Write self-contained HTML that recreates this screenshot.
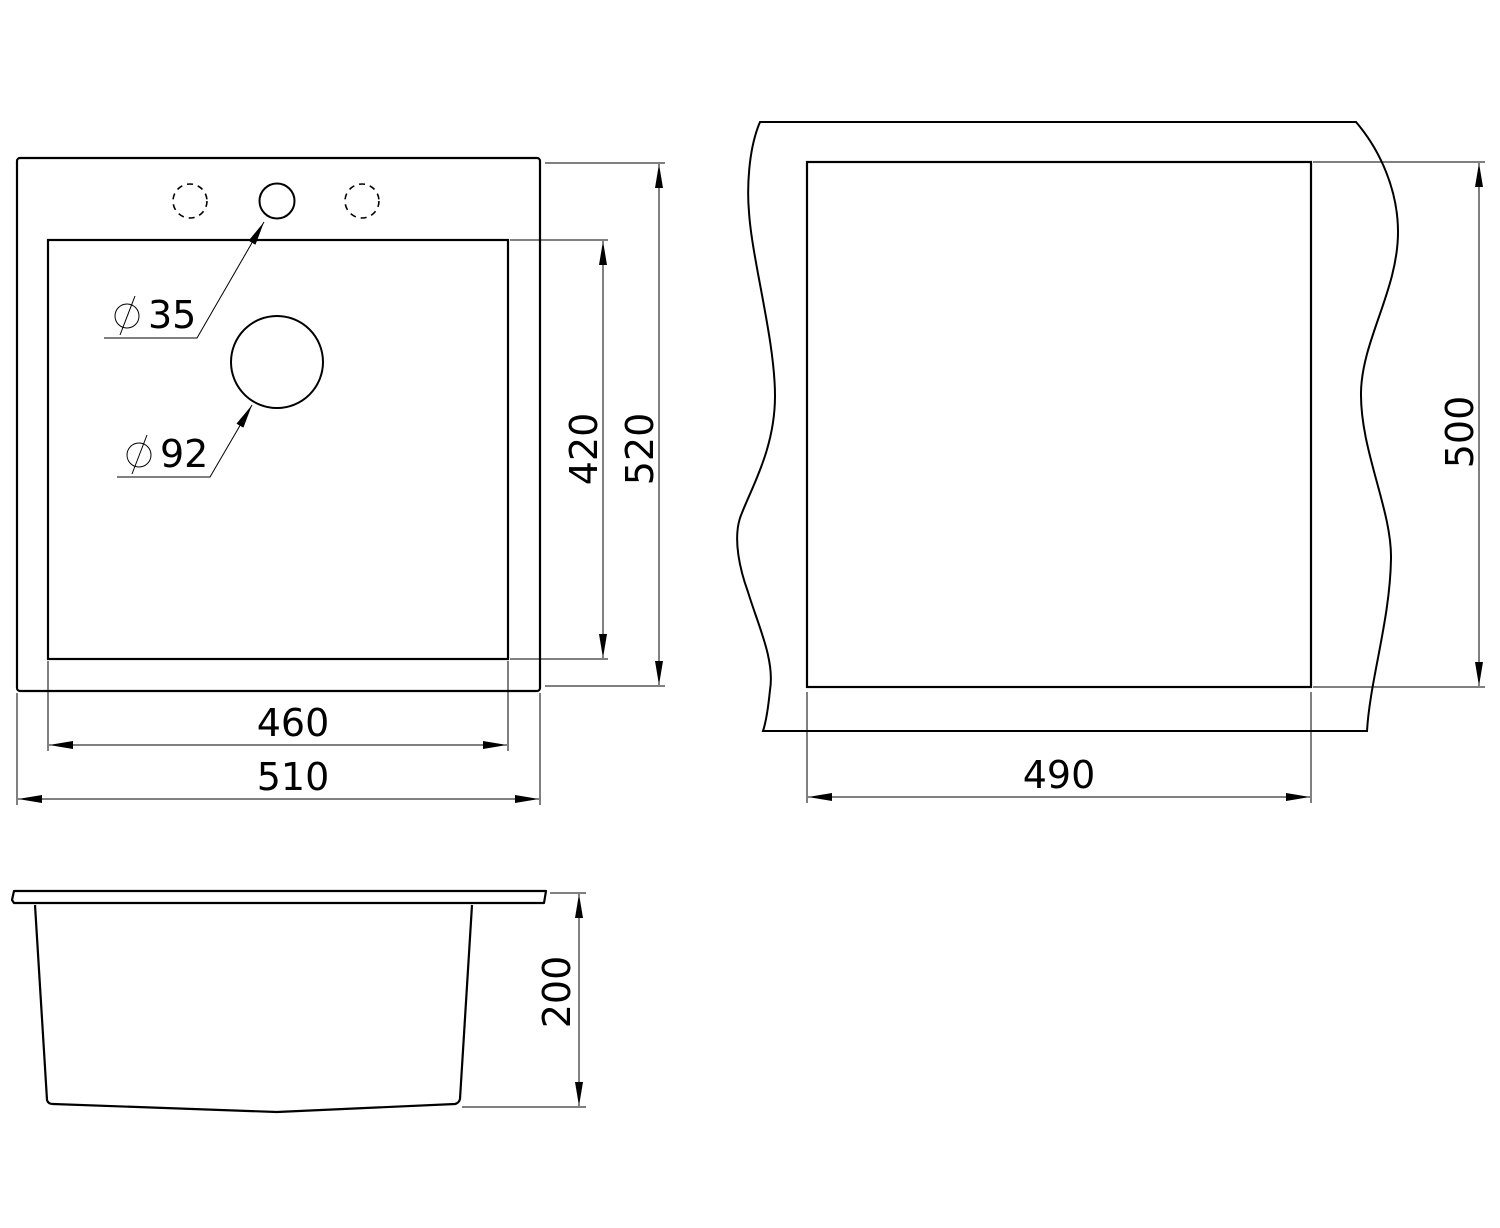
<!DOCTYPE html>
<html><head><style>html,body{margin:0;padding:0;background:#fff}svg{display:block}</style></head>
<body>
<svg width="1500" height="1228" viewBox="0 0 1500 1228" xmlns="http://www.w3.org/2000/svg">
<defs>
<marker id="a" markerWidth="24" markerHeight="8" refX="24" refY="4" orient="auto" markerUnits="userSpaceOnUse">
<path d="M0,0 L24,4 L0,8 Z" fill="#000"/></marker>
<marker id="b" markerWidth="24" markerHeight="8" refX="0" refY="4" orient="auto" markerUnits="userSpaceOnUse">
<path d="M24,0 L0,4 L24,8 Z" fill="#000"/></marker>
</defs>
<g fill="none" stroke="#000">
<!-- top-left view -->
<rect x="17" y="158" width="523" height="533" rx="3" stroke-width="2.2"/>
<rect x="48" y="240" width="460" height="419" stroke-width="2.2"/>
<circle cx="190" cy="201" r="17" stroke-width="1.6" stroke-dasharray="6,5"/>
<circle cx="277" cy="201" r="17.5" stroke-width="2"/>
<circle cx="362" cy="201" r="17" stroke-width="1.6" stroke-dasharray="6,5"/>
<circle cx="277" cy="362" r="46" stroke-width="2"/>
<path d="M104,338 H197 L264,222" stroke-width="1" marker-end="url(#a)"/>
<path d="M117,477 H210 L252,405" stroke-width="1" marker-end="url(#a)"/>
<!-- 420 -->
<path d="M510,240 H608 M510,659 H608" stroke-width="1"/>
<path d="M603,241 V658" stroke-width="1" marker-start="url(#b)" marker-end="url(#a)"/>
<!-- 520 -->
<path d="M545,163 H665 M545,686 H665" stroke-width="1"/>
<path d="M659,164 V685" stroke-width="1" marker-start="url(#b)" marker-end="url(#a)"/>
<!-- 460 -->
<path d="M48,661 V751 M508,661 V751" stroke-width="1"/>
<path d="M49,745 H507" stroke-width="1" marker-start="url(#b)" marker-end="url(#a)"/>
<!-- 510 -->
<path d="M17,693 V805 M540,693 V805" stroke-width="1"/>
<path d="M18,799 H539" stroke-width="1" marker-start="url(#b)" marker-end="url(#a)"/>
<!-- right view -->
<path d="M760,122 H1356 C1380,150 1398,190 1398,232 C1398,290 1362,340 1361,392 C1360,450 1392,510 1391,559 C1390,620 1370,680 1367,731 H763 C765,725 768,710 770,690 C775,660 758,625 748,592 C740,570 733,540 740,518 C750,490 775,450 775,396 C775,340 752,260 749,212 C747,190 748,150 760,122 Z" stroke-width="2"/>
<rect x="807" y="162" width="504" height="525" stroke-width="2.2"/>
<path d="M1313,162 H1485 M1313,687 H1485" stroke-width="1"/>
<path d="M1479,163 V686" stroke-width="1" marker-start="url(#b)" marker-end="url(#a)"/>
<path d="M807,692 V803 M1311,692 V803" stroke-width="1"/>
<path d="M808,797 H1310" stroke-width="1" marker-start="url(#b)" marker-end="url(#a)"/>
<!-- bottom view -->
<path d="M14,891 H546 L544,903 H14 L12,900 Z" stroke-width="2.2" stroke-linejoin="round"/>
<path d="M35,905 L47,1100 Q48,1104 53,1104 L277,1112 L455,1104 Q459,1103 460,1099 L472,905" stroke-width="2.2"/>
<path d="M550,893 H586 M462,1107 H586" stroke-width="1"/>
<path d="M579,894 V1106" stroke-width="1" marker-start="url(#b)" marker-end="url(#a)"/>
</g>
<g font-family="'DejaVu Sans','Liberation Sans',sans-serif" font-size="38" fill="#000">
<text x="148" y="328">35</text>
<text x="160" y="467">92</text>
<text x="293" y="736" text-anchor="middle">460</text>
<text x="293" y="790" text-anchor="middle">510</text>
<text x="1059" y="788" text-anchor="middle">490</text>
<text transform="translate(597,449) rotate(-90)" text-anchor="middle">420</text>
<text transform="translate(653,449) rotate(-90)" text-anchor="middle">520</text>
<text transform="translate(1473,432) rotate(-90)" text-anchor="middle">500</text>
<text transform="translate(570,992) rotate(-90)" text-anchor="middle">200</text>
</g>
<g fill="none" stroke="#000" stroke-width="1">
<circle cx="127" cy="316" r="12"/><path d="M120,335 L135,296"/>
<circle cx="139" cy="455" r="12"/><path d="M132,474 L147,435"/>
</g>
</svg>
</body></html>
